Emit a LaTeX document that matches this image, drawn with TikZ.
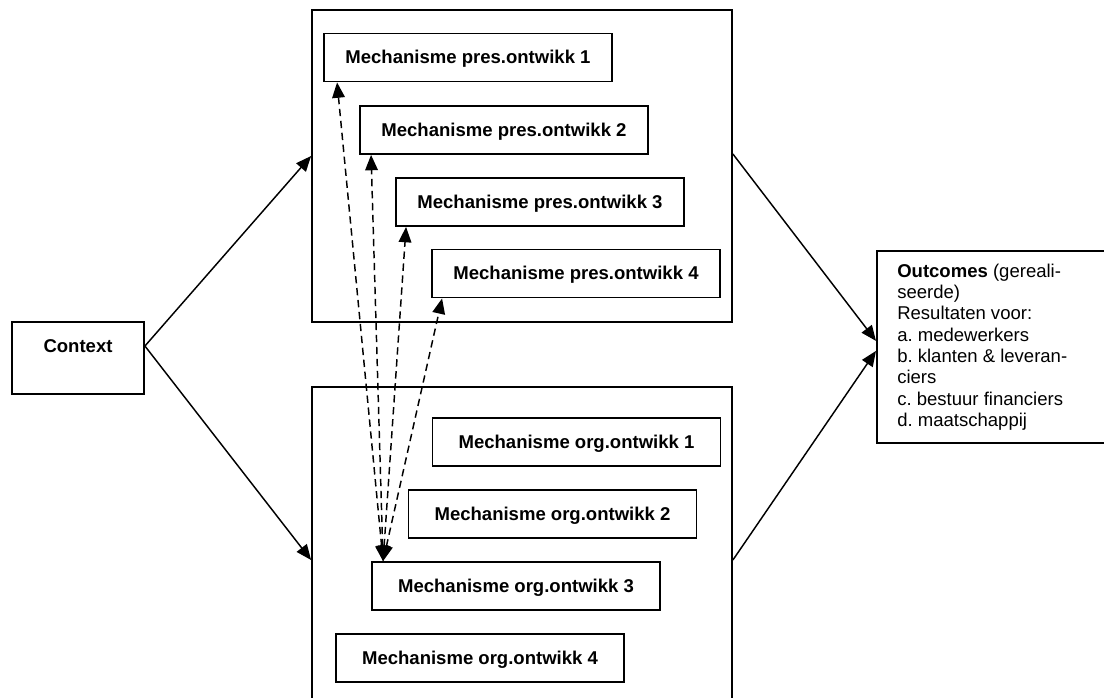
\documentclass[tikz,border=0pt]{standalone}
\usepackage{fontspec}
\setmainfont{Liberation Sans}
\usetikzlibrary{arrows.meta,calc}
\frenchspacing

\begin{document}
\begin{tikzpicture}[
  x=0.75pt, y=-0.75pt,
  frame/.style={draw, line width=1.35pt, inner sep=0pt},
  mbox/.style={draw, line width=1.4pt, inner xsep=0pt, inner ysep=0pt,
    minimum width=216pt, text height=22.5pt, text depth=13.5pt,
    font=\fontsize{13.9pt}{16pt}\selectfont\bfseries},
  conn/.style={line width=1.1pt, -{Triangle[length=11.5pt,width=9.5pt]}},
  link/.style={line width=1.1pt, dash pattern=on 5.5pt off 3.5pt,
    {Triangle[length=11.5pt,width=9.5pt]}-{Triangle[length=11.5pt,width=9.5pt]}}
]
\useasboundingbox (0,0) rectangle (1104,697);
\clip (0,0) rectangle (1104,697);

% context
\node[mbox, minimum width=99pt, text height=22.5pt, text depth=31.5pt]
  (ctx) at (78,358) {Context};

% outer frames for the two groups of mechanisms
\node[frame, minimum width=315pt, minimum height=234pt] (ptop) at (522,166) {};
\node[frame, minimum width=315pt, minimum height=247.5pt] (pbot) at (522,552) {};

% mechanisms: personal development
\node[mbox] (p1) at (468,57.5) {Mechanisme pres.ontwikk 1};
\node[mbox] (p2) at (504,130) {Mechanisme pres.ontwikk 2};
\node[mbox] (p3) at (540,202) {Mechanisme pres.ontwikk 3};
\node[mbox] (p4) at (576,273.5) {Mechanisme pres.ontwikk 4};

% mechanisms: organisational development
\node[mbox] (o1) at (576.5,442) {Mechanisme org.ontwikk 1};
\node[mbox] (o2) at (552.5,514) {Mechanisme org.ontwikk 2};
\node[mbox] (o3) at (516,586) {Mechanisme org.ontwikk 3};
\node[mbox] (o4) at (480,658) {Mechanisme org.ontwikk 4};

% outcomes
\node[frame, anchor=north west, minimum width=175.5pt, minimum height=144pt]
  (out) at (876,250) {};
\node[anchor=north west, inner sep=0pt, align=left,
  font=\fontsize{13.9pt}{16pt}\selectfont] (outtxt) at (897,263.5)
  {\textbf{Outcomes} (gereali-\\seerde)\\Resultaten voor:\\a. medewerkers\\
   b. klanten \& leveran-\\ciers\\c. bestuur financiers\\d. maatschappij};

% connectors
\draw[conn] ([yshift=9pt]ctx.east) -- ([yshift=7.5pt]ptop.west);
\draw[conn] ([yshift=9pt]ctx.east) -- ([yshift=-6pt]pbot.west);
\draw[conn] ([yshift=9pt]ptop.east) -- ([yshift=4.5pt]out.west);
\draw[conn] ([yshift=-6pt]pbot.east) -- ([yshift=-3pt]out.west);

% links between the organisational and personal mechanisms
\coordinate (hub) at ([xshift=9pt]o3.north west);
\draw[link] (hub) -- ([xshift=10.5pt]p1.south west);
\draw[link] (hub) -- ([xshift=9pt]p2.south west);
\draw[link] (hub) -- ([xshift=8.25pt]p3.south west);
\draw[link] (hub) -- ([xshift=8.25pt]p4.south west);
\end{tikzpicture}
\end{document}
